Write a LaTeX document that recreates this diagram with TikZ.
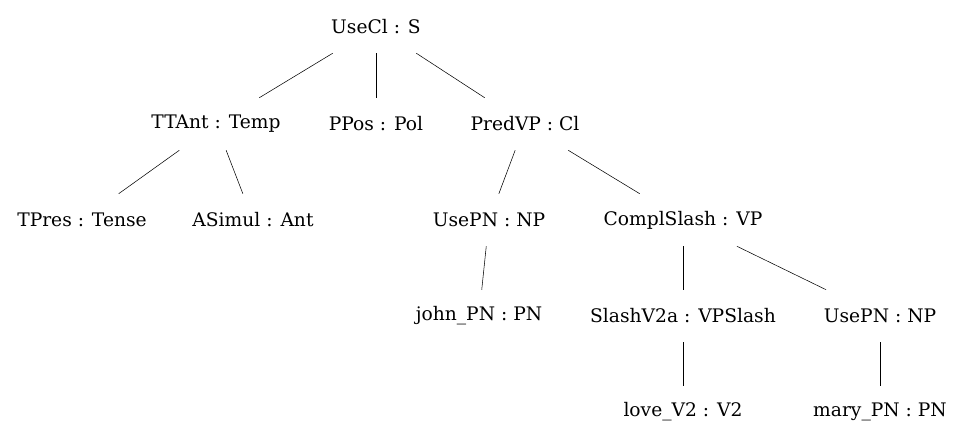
\documentclass[tikz,border=0pt]{standalone}
\usepackage{fontspec}
\setmainfont{DejaVu Serif}
\usetikzlibrary{positioning}
\tikzset{font=\fontsize{14}{16}\selectfont}
\tikzset{fun/.style={rectangle, inner xsep=4pt, inner ysep=0pt, minimum height=39pt}}

\begin{document}
\begin{tikzpicture}[x=0.75pt, y=-0.75pt]
        \useasboundingbox (0,0) rectangle (965,443);
        \node[fun] (usecl) at (376,27) {UseCl : S};
        \node[fun] (ttant) at (216,124) {TTAnt : Temp};
        \node[fun] (ppos) at (376,124) {PPos : Pol};
        \node[fun] (predvp) at (525,124) {PredVP : Cl};
        \node[fun] (tpres) at (82,220) {TPres : Tense};
        \node[fun] (asimul) at (253,220) {ASimul : Ant};
        \node[fun] (usepnj) at (489,220) {UsePN : NP};
        \node[fun] (complslash) at (683,220) {ComplSlash : VP};
        \node[fun] (john) at (479,316) {john\_PN : PN};
        \node[fun] (slashvtwo) at (683,316) {SlashV2a : VPSlash};
        \node[fun] (usepnm) at (880,316) {UsePN : NP};
        \node[fun] (love) at (683,412) {love\_V2 : V2};
        \node[fun] (mary) at (880,412) {mary\_PN : PN};
        \draw (usecl) -- (ttant);
        \draw (usecl) -- (ppos);
        \draw (usecl) -- (predvp);
        \draw (ttant) -- (tpres);
        \draw (ttant) -- (asimul);
        \draw (predvp) -- (usepnj);
        \draw (predvp) -- (complslash);
        \draw (usepnj) -- (john);
        \draw (complslash) -- (slashvtwo);
        \draw (complslash) -- (usepnm);
        \draw (slashvtwo) -- (love);
        \draw (usepnm) -- (mary);
      \end{tikzpicture}
\end{document}
